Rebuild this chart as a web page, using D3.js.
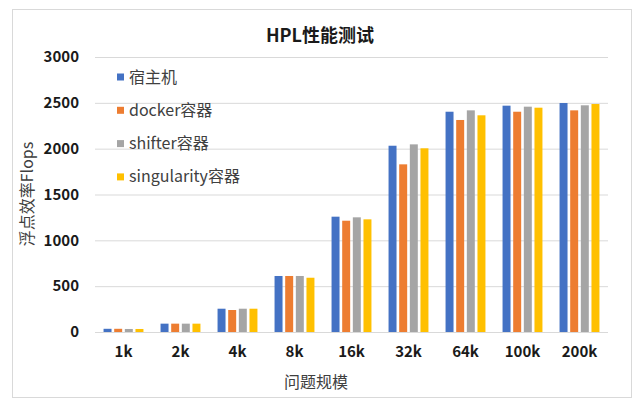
<!DOCTYPE html>
<meta charset="utf-8">
<style>
  body { margin: 0; background: #fff; }
  svg { font-family: "Noto Sans CJK SC", "Liberation Sans", sans-serif; }
</style>
<div id="my_dataviz"></div>
<script src="https://d3js.org/d3.v7.min.js"></script>
<script>

// data
var sizes = ["1k", "2k", "4k", "8k", "16k", "32k", "64k", "100k", "200k"];
var seriesNames = ["宿主机", "docker容器", "shifter容器", "singularity容器"];
var host        = [35, 91, 254, 611, 1258, 2032, 2403, 2469, 2498];
var docker      = [35, 91, 240, 611, 1214, 1829, 2313, 2403, 2418];
var shifter     = [33, 91, 254, 611, 1251, 2047, 2418, 2458, 2473];
var singularity = [33, 91, 254, 592, 1229, 2004, 2364, 2447, 2487];
var yTicks = [0, 500, 1000, 1500, 2000, 2500, 3000];
var colors = ["#4472C4", "#ED7D31", "#A5A5A5", "#FFC000"];

var allSeries = [host, docker, shifter, singularity];

var W = 640, H = 412;
var margin = {top: 57, right: 32, bottom: 80, left: 95},
    width = 608 - margin.left,
    height = 332 - margin.top;

var root = d3.select("#my_dataviz")
  .append("svg")
    .attr("width", W)
    .attr("height", H);

// chart frame
root.append("rect")
  .attr("x", 12.5).attr("y", 9.5)
  .attr("width", 619).attr("height", 388)
  .attr("fill", "#fff")
  .attr("stroke", "#d9d9d9");

var svg = root.append("g")
  .attr("transform", "translate(" + margin.left + "," + margin.top + ")");

// scales
var x0 = d3.scaleBand()
  .domain(sizes)
  .range([0, width])
  .paddingInner(0.3)
  .paddingOuter(0.15);

var x1 = d3.scaleBand()
  .domain(d3.range(seriesNames.length))
  .range([0, x0.bandwidth()])
  .paddingInner(0.25);

var y = d3.scaleLinear()
  .domain([0, 3000])
  .range([height, 0]);

// gridlines
svg.append("g")
  .selectAll("line")
  .data(yTicks)
  .enter()
  .append("line")
    .attr("x1", 0)
    .attr("x2", width)
    .attr("y1", function(d) { return y(d) + 0.5; })
    .attr("y2", function(d) { return y(d) + 0.5; })
    .attr("stroke", "#d9d9d9")
    .attr("stroke-width", 1);

// y axis
var yAxis = svg.append("g")
  .call(d3.axisLeft(y).tickValues(yTicks).tickFormat(d3.format("d")).tickSize(0).tickPadding(16));
yAxis.select(".domain").remove();
yAxis.selectAll("text")
  .attr("font-size", 15)
  .attr("font-weight", "bold")
  .attr("fill", "#1a1a1a")
  .attr("font-family", "'Noto Sans CJK SC', sans-serif");

// x axis
var xAxis = svg.append("g")
  .attr("transform", "translate(0," + height + ")")
  .call(d3.axisBottom(x0).tickSize(0).tickPadding(14));
xAxis.select(".domain").remove();
xAxis.selectAll("text")
  .attr("font-size", 15)
  .attr("font-weight", "bold")
  .attr("fill", "#1a1a1a")
  .attr("font-family", "'Noto Sans CJK SC', sans-serif");

// bars
var groups = svg.append("g")
  .selectAll("g")
  .data(sizes)
  .enter()
  .append("g")
    .attr("transform", function(d) { return "translate(" + x0(d) + ",0)"; });

groups.selectAll("rect")
  .data(function(d, i) {
    return allSeries.map(function(s, k) { return {k: k, v: s[i]}; });
  })
  .enter()
  .append("rect")
    .attr("x", function(d) { return x1(d.k); })
    .attr("width", x1.bandwidth())
    .attr("y", function(d) { return y(d.v); })
    .attr("height", function(d) { return y(0) - y(d.v); })
    .attr("fill", function(d) { return colors[d.k]; });

// title
root.append("text")
  .attr("x", 320)
  .attr("y", 42)
  .attr("text-anchor", "middle")
  .attr("font-size", 18)
  .attr("font-weight", "bold")
  .attr("fill", "#1a1a1a")
  .text("HPL性能测试");

// axis titles
root.append("text")
  .attr("x", 316)
  .attr("y", 388)
  .attr("text-anchor", "middle")
  .attr("font-size", 16)
  .attr("fill", "#404040")
  .text("问题规模");

root.append("text")
  .attr("transform", "translate(33,194) rotate(-90)")
  .attr("text-anchor", "middle")
  .attr("font-size", 16)
  .attr("fill", "#404040")
  .text("浮点效率Flops");

// legend
var legend = root.append("g")
  .selectAll("g")
  .data(seriesNames)
  .enter()
  .append("g")
    .attr("transform", function(d, i) { return "translate(117," + (77 + i * 33.3) + ")"; });

legend.append("rect")
  .attr("x", 0).attr("y", -3.5)
  .attr("width", 7).attr("height", 7)
  .attr("fill", function(d, i) { return colors[i]; });

legend.append("text")
  .attr("x", 12)
  .attr("y", 5.5)
  .attr("font-size", 16)
  .attr("fill", "#404040")
  .text(function(d) { return d; });

</script>
